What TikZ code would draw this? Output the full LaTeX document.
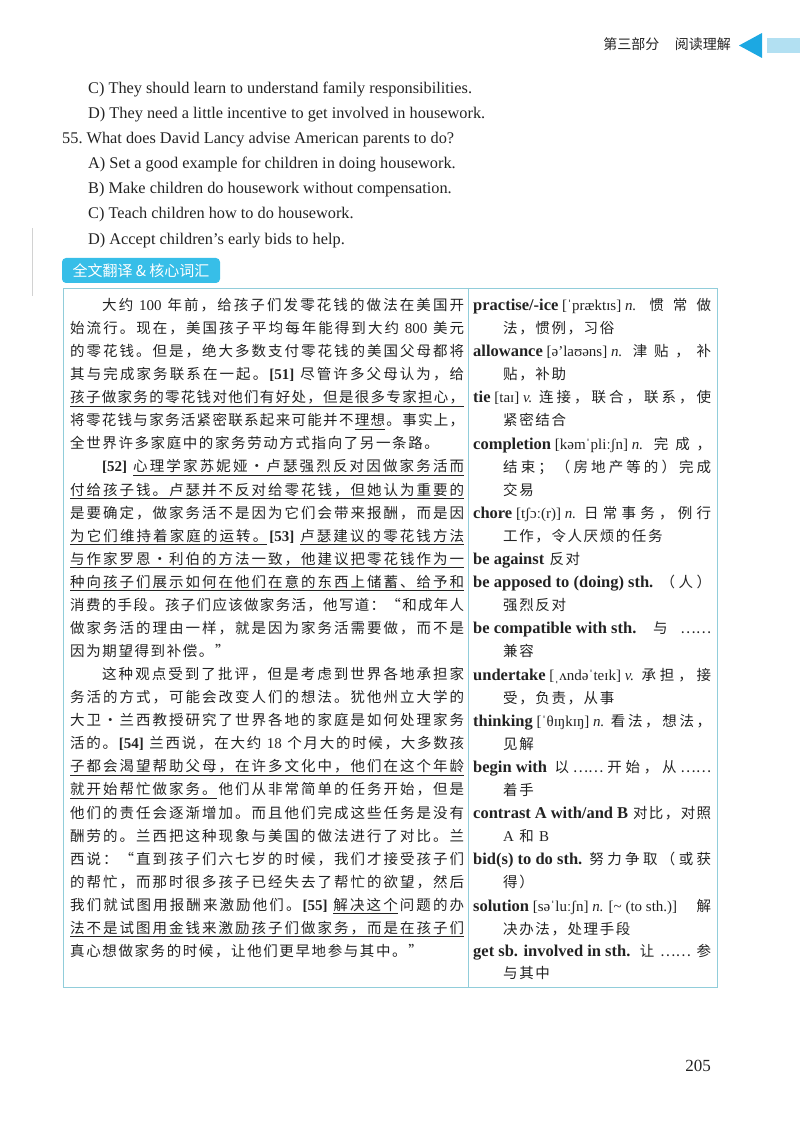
\documentclass[tikz,border=0pt]{standalone}
\usepackage{fontspec}
\setmainfont{Liberation Serif}
\newfontfamily\cjk{Noto Sans CJK SC}
\definecolor{ink}{RGB}{35,35,35}
\definecolor{cyantab}{RGB}{55,190,232}
\definecolor{cyantri}{RGB}{28,168,226}
\definecolor{cyanstrip}{RGB}{178,224,242}
\definecolor{boxline}{RGB}{145,205,218}
\newdimen\jgap \jgap=1.6pt
\newdimen\lcolw \lcolw=394pt
\newdimen\rcolw \rcolw=238pt
\newsavebox\jbox
\makeatletter
\newif\ifjul
\newcommand\uon{}\newcommand\uoff{}
\def\jmarkon{\uon}\def\jmarkoff{\uoff}
\def\jgluep{\hskip\jgap plus 1fil minus\jgap\relax}
\def\jglueu{\leaders\vrule height -3.1pt depth 3.7pt\hskip\jgap plus 1fil minus\jgap\relax}
\newcommand\julchar[1]{\sbox\jbox{#1}\rlap{\vrule width\wd\jbox height -3.1pt depth 3.7pt}\usebox\jbox}
\newcommand\jrun[1]{\julfalse\let\jsep\relax
  \@tfor\jc:=#1\do{%
    \ifx\jc\jmarkon\jultrue
    \else\ifx\jc\jmarkoff\julfalse\let\jsep\jgluep
    \else\jsep\ifjul\julchar{\jc}\let\jsep\jglueu\else{\jc}\let\jsep\jgluep\fi
    \fi\fi}}
\makeatother
\newcommand\jline[2][\lcolw]{\hbox to #1{\jrun{#2}}}
\newcommand\jnat[1]{\hbox{\jrun{#1}}}
\newcommand\lat{\rmfamily\fontsize{15}{16}\selectfont}
\newcommand\hw[1]{{\fontsize{16.5}{17}\selectfont\bfseries #1}}
\newcommand\wc[1]{\textit{#1}}
\begin{document}
\begin{tikzpicture}[x=1pt,y=-1pt,
  zh/.style={anchor=base west,inner sep=0pt,text=ink,font=\cjk\fontsize{14.5}{16}\selectfont},
  en/.style={anchor=base west,inner sep=0pt,text=ink,font=\fontsize{16.3}{18}\selectfont},
  rule/.style={draw=boxline,line width=0.8pt}]
\useasboundingbox (0,0) rectangle (800,1131);
\node[anchor=base east,inner sep=0pt,text=ink,font=\cjk\fontsize{14}{16}\selectfont] (head) at (731,50) {第三部分\hspace{1.1em}阅读理解};
\fill[cyantri] (739,45.5) -- (762,33) -- (762,58) -- cycle;
\fill[cyanstrip] (767,38) rectangle (800,53);
\node[en] (Q1) at (88,94) {C) They should learn to understand family responsibilities.};
\node[en] (Q2) at (88,119) {D) They need a little incentive to get involved in housework.};
\node[en] (Q3) at (62,144) {55.\ What does David Lancy advise American parents to do?};
\node[en] (Q4) at (88,169) {A) Set a good example for children in doing housework.};
\node[en] (Q5) at (88,194) {B) Make children do housework without compensation.};
\node[en] (Q6) at (88,219) {C) Teach children how to do housework.};
\node[en] (Q7) at (88,245) {D) Accept children’s early bids to help.};
\draw[gray!35,line width=0.6pt] (32,228) -- (32,296);
\node[fill=cyantab,rounded corners=4pt,text=white,font=\cjk\fontsize{15}{16}\selectfont,minimum width=158pt,minimum height=25pt,inner sep=0pt] (tag) at (141,270.5) {全文翻译 \& 核心词汇};
\draw[rule] (63,288) rectangle (717,987);
\draw[rule] (468,288) -- (468,987);
\node[zh] (L1) at (102,310.4) {\jline[\dimexpr\lcolw-32pt\relax]{大约{\lat~100~}年前，给孩子们发零花钱的做法在美国开}};
\node[zh] (L2) at (70,333.5) {\jline{始流行。现在，美国孩子平均每年能得到大约{\lat~800~}美元}};
\node[zh] (L3) at (70,356.5) {\jline{的零花钱。但是，绝大多数支付零花钱的美国父母都将}};
\node[zh] (L4) at (70,379.6) {\jline{其与完成家务联系在一起。{\lat\bfseries[51]~}尽管许多父母认为，给}};
\node[zh] (L5) at (70,402.7) {\jline{\uon 孩子做家务的零花钱对他们有好处，但是很多专家担心，\uoff}};
\node[zh] (L6) at (70,425.8) {\jline{将零花钱与家务活紧密联系起来可能并不\uon 理想\uoff 。事实上，}};
\node[zh] (L7) at (70,448.8) {\jnat{全世界许多家庭中的家务劳动方式指向了另一条路。}};
\node[zh] (L8) at (102,471.9) {\jline[\dimexpr\lcolw-32pt\relax]{{\lat\bfseries[52]~}\uon 心理学家苏妮娅·卢瑟强烈反对因做家务活而\uoff}};
\node[zh] (L9) at (70,495.0) {\jline{\uon 付给孩子钱。卢瑟并不反对给零花钱，但她认为重要的\uoff}};
\node[zh] (L10) at (70,518.0) {\jline{是要确定，做家务活不是因为它们会带来报酬，而是因}};
\node[zh] (L11) at (70,541.1) {\jline{\uon 为它们维持着家庭的运转。\uoff{\lat\bfseries[53]~}\uon 卢瑟建议的零花钱方法\uoff}};
\node[zh] (L12) at (70,564.2) {\jline{\uon 与作家罗恩·利伯的方法一致，他建议把零花钱作为一\uoff}};
\node[zh] (L13) at (70,587.2) {\jline{\uon 种向孩子们展示如何在他们在意的东西上储蓄、给予和\uoff}};
\node[zh] (L14) at (70,610.3) {\jline{消费的手段。孩子们应该做家务活，他写道：“和成年人}};
\node[zh] (L15) at (70,633.4) {\jline{做家务活的理由一样，就是因为家务活需要做，而不是}};
\node[zh] (L16) at (70,656.5) {\jnat{因为期望得到补偿。”}};
\node[zh] (L17) at (102,679.5) {\jline[\dimexpr\lcolw-32pt\relax]{这种观点受到了批评，但是考虑到世界各地承担家}};
\node[zh] (L18) at (70,702.6) {\jline{务活的方式，可能会改变人们的想法。犹他州立大学的}};
\node[zh] (L19) at (70,725.7) {\jline{大卫·兰西教授研究了世界各地的家庭是如何处理家务}};
\node[zh] (L20) at (70,748.7) {\jline{活的。{\lat\bfseries[54]~}兰西说，在大约{\lat~18~}个月大的时候，大多数孩}};
\node[zh] (L21) at (70,771.8) {\jline{\uon 子都会渴望帮助父母，在许多文化中，他们在这个年龄\uoff}};
\node[zh] (L22) at (70,794.9) {\jline{\uon 就开始帮忙做家务。\uoff 他们从非常简单的任务开始，但是}};
\node[zh] (L23) at (70,818.0) {\jline{他们的责任会逐渐增加。而且他们完成这些任务是没有}};
\node[zh] (L24) at (70,841.0) {\jline{酬劳的。兰西把这种现象与美国的做法进行了对比。兰}};
\node[zh] (L25) at (70,864.1) {\jline{西说：“直到孩子们六七岁的时候，我们才接受孩子们}};
\node[zh] (L26) at (70,887.2) {\jline{的帮忙，而那时很多孩子已经失去了帮忙的欲望，然后}};
\node[zh] (L27) at (70,910.2) {\jline{我们就试图用报酬来激励他们。{\lat\bfseries[55]~}\uon 解决这个\uoff 问题的办}};
\node[zh] (L28) at (70,933.3) {\jline{\uon 法不是试图用金钱来激励孩子们做家务，而是在孩子们\uoff}};
\node[zh] (L29) at (70,956.4) {\jnat{真心想做家务的时候，让他们更早地参与其中。”}};
\node[zh] (R1) at (473,310.4) {\jline[\rcolw]{{\lat\hw{practise/-ice} [ˈpræktɪs] \wc{n.}~}惯常做}};
\node[zh] (R2) at (503,333.5) {\jnat{法，惯例，习俗}};
\node[zh] (R3) at (473,356.6) {\jline[\rcolw]{{\lat\hw{allowance} [ə'laʊəns] \wc{n.}~}津贴，补}};
\node[zh] (R4) at (503,379.7) {\jnat{贴，补助}};
\node[zh] (R5) at (473,402.8) {\jline[\rcolw]{{\lat\hw{tie} [taɪ] \wc{v.}~}连接，联合，联系，使}};
\node[zh] (R6) at (503,425.9) {\jnat{紧密结合}};
\node[zh] (R7) at (473,449.0) {\jline[\rcolw]{{\lat\hw{completion} [kəmˈpliːʃn] \wc{n.}~}完成，}};
\node[zh] (R8) at (503,472.1) {\jline[\dimexpr\rcolw-30pt\relax]{结束；（房地产等的）完成}};
\node[zh] (R9) at (503,495.2) {\jnat{交易}};
\node[zh] (R10) at (473,518.3) {\jline[\rcolw]{{\lat\hw{chore} [tʃɔː(r)] \wc{n.}~}日常事务，例行}};
\node[zh] (R11) at (503,541.4) {\jnat{工作，令人厌烦的任务}};
\node[zh] (R12) at (473,564.5) {\jnat{{\lat\hw{be against}~}反对}};
\node[zh] (R13) at (473,587.6) {\jline[\rcolw]{{\lat\hw{be apposed to (doing) sth.}~}（人）}};
\node[zh] (R14) at (503,610.7) {\jnat{强烈反对}};
\node[zh] (R15) at (473,633.8) {\jline[\rcolw]{{\lat\hw{be compatible with sth.}~}与{……}}};
\node[zh] (R16) at (503,656.9) {\jnat{兼容}};
\node[zh] (R17) at (473,680.0) {\jline[\rcolw]{{\lat\hw{undertake} [ˌʌndəˈteɪk] \wc{v.}~}承担，接}};
\node[zh] (R18) at (503,703.1) {\jnat{受，负责，从事}};
\node[zh] (R19) at (473,726.2) {\jline[\rcolw]{{\lat\hw{thinking} [ˈθɪŋkɪŋ] \wc{n.}~}看法，想法，}};
\node[zh] (R20) at (503,749.3) {\jnat{见解}};
\node[zh] (R21) at (473,772.4) {\jline[\rcolw]{{\lat\hw{begin with}~}以{……}开始，从{……}}};
\node[zh] (R22) at (503,795.5) {\jnat{着手}};
\node[zh] (R23) at (473,818.6) {\jline[\rcolw]{{\lat\hw{contrast A with/and B}~}对比，对照}};
\node[zh] (R24) at (503,841.7) {\jnat{{\lat A~}和{\lat~B}}};
\node[zh] (R25) at (473,864.8) {\jline[\rcolw]{{\lat\hw{bid(s) to do sth.}~}努力争取（或获}};
\node[zh] (R26) at (503,887.9) {\jnat{得）}};
\node[zh] (R27) at (473,911.0) {\jline[\rcolw]{{\lat\hw{solution} [səˈluːʃn] \wc{n.} [\textasciitilde{} (to sth.)]~}解}};
\node[zh] (R28) at (503,934.1) {\jnat{决办法，处理手段}};
\node[zh] (R29) at (473,956.2) {\jline[\rcolw]{{\lat\hw{get sb. involved in sth.}~}让{……}参}};
\node[zh] (R30) at (503,978.8) {\jnat{与其中}};
\node[anchor=base east,inner sep=0pt,text=ink,font=\fontsize{17}{18}\selectfont] (pnum) at (711,1071) {205};
\end{tikzpicture}
\end{document}
